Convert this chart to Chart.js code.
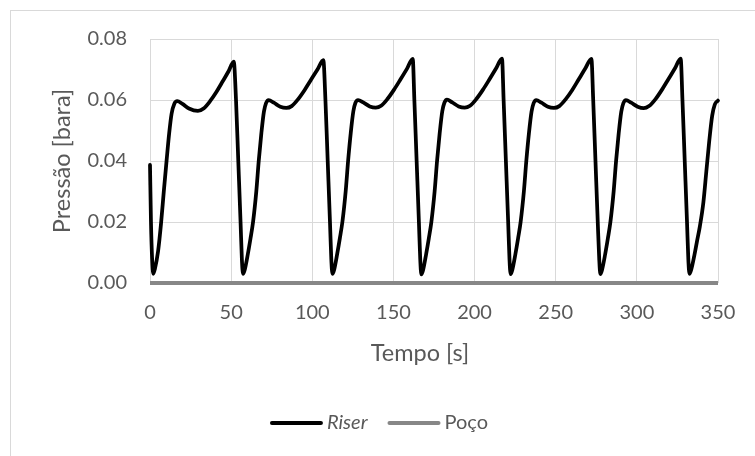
<!DOCTYPE html>
<html>
<head>
<meta charset="utf-8">
<script src="https://cdn.jsdelivr.net/npm/chart.js@4.4.1/dist/chart.umd.min.js"></script>
<style>
  html, body { margin: 0; padding: 0; background: #fff; }
  canvas { display: block; }
</style>
</head>
<body>
<canvas id="chart" width="755" height="456"></canvas>
<script>
// Tempo [s] e pressão [bara] no riser, um ciclo de golfada por linha
const riserTime = [
  0, 0.6, 1.3, 2.0, 3.0, 5.0, 6.8, 8.5, 10.2, 11.8, 13.3, 15.0, 16.8, 20.0, 24.0, 29.5, 33.0, 37.0, 41.0, 45.0, 48.5, 51.6,
  53.0, 54.4, 55.8, 56.6, 57.3,
  58.3, 60.3, 61.9, 63.5, 65.5, 67.0, 68.6, 70.2, 71.5, 73.1, 76.3, 80.3, 84.0, 87.3, 91.3, 95.3, 99.3, 103.3, 106.8,
  108.1, 109.5, 110.9, 111.7, 112.4,
  113.4, 115.4, 117.0, 118.6, 120.6, 122.1, 123.7, 125.3, 126.6, 128.2, 131.4, 135.4, 139.1, 142.4, 146.4, 150.4, 154.4, 158.4, 161.9,
  162.9, 164.3, 165.7, 166.5, 167.2,
  168.2, 170.2, 171.8, 173.4, 175.4, 176.9, 178.5, 180.1, 181.4, 183.0, 186.2, 190.2, 193.9, 197.2, 201.2, 205.2, 209.2, 213.2, 216.9,
  217.9, 219.3, 220.7, 221.5, 222.2,
  223.2, 225.2, 226.8, 228.4, 230.4, 231.9, 233.5, 235.1, 236.4, 238.0, 241.2, 245.2, 248.9, 252.2, 256.2, 260.2, 264.2, 268.2, 272.0,
  273.1, 274.5, 275.9, 276.8, 277.5,
  278.5, 280.5, 282.1, 283.7, 285.7, 287.2, 288.8, 290.4, 291.7, 293.3, 296.5, 300.5, 304.2, 307.5, 311.5, 315.5, 319.5, 323.5, 327.0,
  328.1, 329.5, 330.9, 331.7, 332.4,
  333.4, 335.4, 337.0, 338.8, 341.0, 342.8, 344.6, 346.4, 348.0, 350.0
];
const riserPressure = [
  0.0387, 0.0200, 0.0080, 0.0030, 0.0046, 0.0105, 0.0195, 0.0300, 0.0400, 0.0490, 0.0555, 0.0588, 0.0596, 0.0587, 0.0572, 0.0564, 0.0572, 0.0596, 0.0627, 0.0663, 0.0695, 0.0726,
  0.0600, 0.0400, 0.0200, 0.0080, 0.0030,
  0.0042, 0.0095, 0.0145, 0.0200, 0.0300, 0.0400, 0.0490, 0.0562, 0.0590, 0.0600, 0.0591, 0.0578, 0.0574, 0.0580, 0.0603, 0.0633, 0.0667, 0.0701, 0.0731,
  0.0600, 0.0400, 0.0200, 0.0080, 0.0030,
  0.0042, 0.0097, 0.0147, 0.0202, 0.0302, 0.0402, 0.0492, 0.0563, 0.0591, 0.0600, 0.0592, 0.0579, 0.0575, 0.0581, 0.0604, 0.0634, 0.0668, 0.0703, 0.0735,
  0.0600, 0.0400, 0.0200, 0.0080, 0.0028,
  0.0041, 0.0096, 0.0146, 0.0201, 0.0301, 0.0401, 0.0491, 0.0563, 0.0591, 0.0601, 0.0592, 0.0579, 0.0575, 0.0581, 0.0604, 0.0634, 0.0668, 0.0703, 0.0736,
  0.0600, 0.0400, 0.0200, 0.0080, 0.0029,
  0.0042, 0.0096, 0.0146, 0.0201, 0.0301, 0.0401, 0.0491, 0.0562, 0.0590, 0.0600, 0.0591, 0.0578, 0.0574, 0.0580, 0.0603, 0.0633, 0.0668, 0.0703, 0.0735,
  0.0600, 0.0400, 0.0200, 0.0080, 0.0029,
  0.0042, 0.0095, 0.0145, 0.0200, 0.0300, 0.0400, 0.0490, 0.0562, 0.0590, 0.0600, 0.0591, 0.0578, 0.0573, 0.0580, 0.0603, 0.0634, 0.0669, 0.0704, 0.0736,
  0.0600, 0.0400, 0.0200, 0.0080, 0.0030,
  0.0042, 0.0090, 0.0135, 0.0185, 0.0265, 0.0365, 0.0465, 0.0548, 0.0585, 0.0598
];

// Pressão no poço: nula durante toda a simulação
const pocoTime = [0, 350];
const pocoPressure = [0, 0];

const xTicks = [0, 50, 100, 150, 200, 250, 300, 350];
const yTicks = [0, 0.02, 0.04, 0.06, 0.08];

const textColor = '#595959';
const gridColor = '#d9d9d9';
const fontFamily = 'Lato, "Open Sans", sans-serif';

const toPoints = (xs, ys) => xs.map((x, i) => ({ x, y: ys[i] }));

// Fundo e moldura (só as bordas superior e esquerda ficam dentro da tela)
const framePlugin = {
  id: 'frame',
  beforeDraw(chart) {
    const { ctx } = chart;
    ctx.save();
    ctx.fillStyle = '#ffffff';
    ctx.fillRect(0, 0, chart.width, chart.height);
    ctx.strokeStyle = gridColor;
    ctx.lineWidth = 1;
    ctx.strokeRect(10.5, 10.5, chart.width + 20, chart.height + 20);
    ctx.restore();
  }
};

// Título do eixo x, centrado na moldura e não na área de plotagem
const xTitlePlugin = {
  id: 'xTitle',
  afterDraw(chart) {
    const { ctx } = chart;
    ctx.save();
    ctx.font = `23.5px ${fontFamily}`;
    ctx.fillStyle = textColor;
    ctx.textAlign = 'center';
    ctx.textBaseline = 'middle';
    ctx.fillText('Tempo [s]', 420, 353);
    ctx.restore();
  }
};

// Legenda desenhada à mão para permitir "Riser" em itálico
const legendStyles = ['italic', 'normal'];
const legendPlugin = {
  id: 'customLegend',
  afterDraw(chart) {
    const { ctx } = chart;
    const sampleLen = 49;
    const sampleGap = 6;
    const itemGap = 22;
    const y = 423;
    ctx.save();
    const items = chart.data.datasets.map((ds, i) => {
      ctx.font = `${legendStyles[i]} 20px ${fontFamily}`;
      return { ds, font: ctx.font, w: ctx.measureText(ds.label).width };
    });
    const total = items.reduce((s, it) => s + sampleLen + sampleGap + it.w, 0) + itemGap * (items.length - 1);
    let x = 380 - total / 2;
    items.forEach((it) => {
      ctx.beginPath();
      ctx.moveTo(x, y);
      ctx.lineTo(x + sampleLen, y);
      ctx.strokeStyle = it.ds.borderColor;
      ctx.lineWidth = 4;
      ctx.lineCap = 'round';
      ctx.stroke();
      x += sampleLen + sampleGap;
      ctx.font = it.font;
      ctx.fillStyle = textColor;
      ctx.textBaseline = 'middle';
      ctx.textAlign = 'left';
      ctx.fillText(it.ds.label, x, y);
      x += it.w + itemGap;
    });
    ctx.restore();
  }
};

new Chart(document.getElementById('chart'), {
  type: 'line',
  data: {
    datasets: [
      {
        label: 'Riser',
        data: toPoints(riserTime, riserPressure),
        borderColor: '#000000',
        borderWidth: 3.75,
        pointRadius: 0,
        cubicInterpolationMode: 'monotone',
        borderCapStyle: 'round',
        borderJoinStyle: 'round',
        clip: false
      },
      {
        label: 'Poço',
        data: toPoints(pocoTime, pocoPressure),
        borderColor: '#878787',
        borderWidth: 4,
        pointRadius: 0,
        clip: false
      }
    ]
  },
  options: {
    responsive: false,
    animation: false,
    devicePixelRatio: 1,
    layout: { padding: { top: 39, right: 37, bottom: 80, left: 0 } },
    plugins: {
      legend: { display: false },
      tooltip: { enabled: false }
    },
    scales: {
      x: {
        type: 'linear',
        min: 0,
        max: 350,
        afterFit: (scale) => { scale.height = 93; },
        afterBuildTicks: (scale) => { scale.ticks = xTicks.map((v) => ({ value: v })); },
        grid: { color: gridColor, lineWidth: 1, drawTicks: false },
        border: { display: false },
        ticks: {
          color: textColor,
          font: { family: fontFamily, size: 20 },
          padding: 18,
          maxRotation: 0
        }
      },
      y: {
        min: 0,
        max: 0.08,
        afterFit: (scale) => { scale.width = 150; },
        afterBuildTicks: (scale) => { scale.ticks = yTicks.map((v) => ({ value: v })); },
        grid: { color: gridColor, lineWidth: 1, drawTicks: false },
        border: { display: false },
        ticks: {
          color: textColor,
          font: { family: fontFamily, size: 20 },
          padding: 23,
          callback: (v) => Number(v).toFixed(2)
        },
        title: {
          display: true,
          text: 'Pressão [bara]',
          color: textColor,
          font: { family: fontFamily, size: 23.5 },
          padding: { top: 48, bottom: 0 }
        }
      }
    }
  },
  plugins: [framePlugin, xTitlePlugin, legendPlugin]
});
</script>
</body>
</html>
